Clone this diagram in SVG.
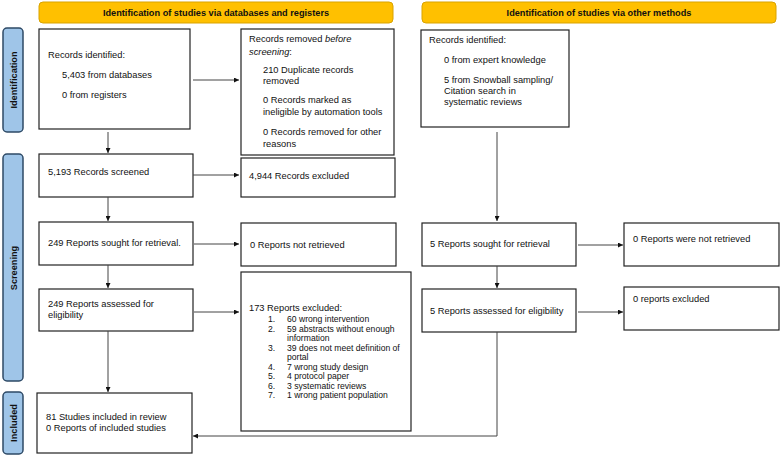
<svg xmlns="http://www.w3.org/2000/svg" width="780" height="456" viewBox="0 0 780 456">
<defs>
<marker id="arr" viewBox="0 0 10 10" refX="10" refY="5" markerWidth="5" markerHeight="5" orient="auto" markerUnits="userSpaceOnUse"><path d="M0,0 L10,5 L0,10 z" fill="#111"/></marker>
</defs>
<style>
.box{fill:#fff;stroke:#222;stroke-width:1.2}
.hdr{fill:#FFC000;stroke:#D9A300;stroke-width:1}
.side{fill:#9FC5E8;stroke:#2E4A66;stroke-width:1.5}
text{font-family:"Liberation Sans",Arial,sans-serif;font-size:9.3px;fill:#111}
.b{font-weight:bold;font-size:9.2px}
.s{font-size:8.6px}
.c{fill:none;stroke:#444;stroke-width:1}
</style>
<rect width="780" height="456" fill="#fff"/>
<g id="hdr1"><rect class="hdr" x="39" y="2" width="354" height="21" rx="4"/><text class="b" x="216" y="16" text-anchor="middle">Identification of studies via databases and registers</text></g>
<g id="hdr2"><rect class="hdr" x="422" y="2" width="354" height="21" rx="4"/><text class="b" x="599" y="16" text-anchor="middle">Identification of studies via other methods</text></g>
<g id="side-identification"><rect class="side" x="3" y="28" width="20" height="104" rx="4"/><text class="b" transform="translate(16.5,80) rotate(-90)" text-anchor="middle">Identification</text></g>
<g id="side-screening"><rect class="side" x="3" y="154" width="20" height="227" rx="4"/><text class="b" transform="translate(16.5,268) rotate(-90)" text-anchor="middle">Screening</text></g>
<g id="side-included"><rect class="side" x="3" y="392" width="20" height="62" rx="4"/><text class="b" transform="translate(16.5,423) rotate(-90)" text-anchor="middle">Included</text></g>

<g id="records-identified"><rect class="box" x="39" y="29" width="151" height="100"/>
<text x="48" y="58">Records identified:</text><text x="62" y="78">5,403 from databases</text><text x="62" y="98">0 from registers</text></g>
<g id="records-removed"><rect class="box" x="241" y="29" width="153" height="126"/>
<text x="249" y="42">Records removed <tspan font-style="italic">before</tspan></text><text x="249" y="55"><tspan font-style="italic">screening</tspan>:</text>
<text x="263" y="73">210 Duplicate records</text><text x="263" y="84">removed</text>
<text x="263" y="103">0 Records marked as</text><text x="263" y="115">ineligible by automation tools</text>
<text x="263" y="135">0 Records removed for other</text><text x="263" y="147">reasons</text></g>
<g id="records-screened"><rect class="box" x="39" y="154" width="154" height="43"/><text x="48" y="175">5,193 Records screened</text></g>
<g id="records-excluded"><rect class="box" x="241" y="158" width="154" height="39"/><text x="249" y="179">4,944 Records excluded</text></g>
<g id="sought1"><rect class="box" x="39" y="222" width="154" height="43"/><text x="48" y="246">249 Reports sought for retrieval.</text></g>
<g id="not-retrieved1"><rect class="box" x="241" y="223" width="155" height="43"/><text x="250" y="248">0 Reports not retrieved</text></g>
<g id="assessed1"><rect class="box" x="39" y="289" width="154" height="42"/><text x="48" y="307">249 Reports assessed for</text><text x="48" y="318">eligibility</text></g>
<g id="excluded1"><rect class="box" x="241" y="272" width="170" height="159"/>
<text x="249" y="311">173 Reports excluded:</text>
<text class="s" x="268" y="322">1.</text><text class="s" x="287" y="322">60 wrong intervention</text>
<text class="s" x="268" y="331.5">2.</text><text class="s" x="287" y="331.5">59 abstracts without enough</text>
<text class="s" x="287" y="341">information</text>
<text class="s" x="268" y="350.5">3.</text><text class="s" x="287" y="350.5">39 does not meet definition of</text>
<text class="s" x="287" y="360">portal</text>
<text class="s" x="268" y="369.5">4.</text><text class="s" x="287" y="369.5">7 wrong study design</text>
<text class="s" x="268" y="379">5.</text><text class="s" x="287" y="379">4 protocol paper</text>
<text class="s" x="268" y="388.5">6.</text><text class="s" x="287" y="388.5">3 systematic reviews</text>
<text class="s" x="268" y="398">7.</text><text class="s" x="287" y="398">1 wrong patient population</text></g>
<g id="included"><rect class="box" x="37" y="393" width="155" height="60"/><text x="46" y="420">81 Studies included in review</text><text x="46" y="431">0 Reports of included studies</text></g>

<g id="other-identified"><rect class="box" x="421" y="30" width="148" height="97"/>
<text x="429" y="43">Records identified:</text><text x="444" y="63">0 from expert knowledge</text>
<text x="444" y="83">5 from Snowball sampling/</text><text x="444" y="94">Citation search in</text><text x="444" y="105">systematic reviews</text></g>
<g id="sought2"><rect class="box" x="422" y="223" width="154" height="43"/><text x="430" y="247">5 Reports sought for retrieval</text></g>
<g id="not-retrieved2"><rect class="box" x="624" y="223" width="155" height="43"/><text x="633" y="242">0 Reports were not retrieved</text></g>
<g id="assessed2"><rect class="box" x="422" y="289" width="154" height="43"/><text x="430" y="314">5 Reports assessed for eligibility</text></g>
<g id="excluded2"><rect class="box" x="624" y="287" width="155" height="43"/><text x="633" y="302">0 reports excluded</text></g>

<g id="connectors">
<line class="c" x1="193" y1="80" x2="239" y2="80" marker-end="url(#arr)"/>
<line class="c" x1="108" y1="132" x2="108" y2="153" marker-end="url(#arr)"/>
<line class="c" x1="193" y1="175" x2="239" y2="175" marker-end="url(#arr)"/>
<line class="c" x1="108" y1="197" x2="108" y2="221" marker-end="url(#arr)"/>
<line class="c" x1="194" y1="244" x2="239" y2="244" marker-end="url(#arr)"/>
<line class="c" x1="108" y1="265" x2="108" y2="288" marker-end="url(#arr)"/>
<line class="c" x1="194" y1="312" x2="239" y2="312" marker-end="url(#arr)"/>
<line class="c" x1="108" y1="331" x2="108" y2="392" marker-end="url(#arr)"/>
<line class="c" x1="497" y1="132" x2="497" y2="221" marker-end="url(#arr)"/>
<line class="c" x1="578" y1="245" x2="623" y2="245" marker-end="url(#arr)"/>
<line class="c" x1="497" y1="266" x2="497" y2="288" marker-end="url(#arr)"/>
<line class="c" x1="578" y1="312" x2="623" y2="312" marker-end="url(#arr)"/>
<polyline class="c" points="497,332 497,436 193,436" marker-end="url(#arr)"/>
</g>
</svg>
